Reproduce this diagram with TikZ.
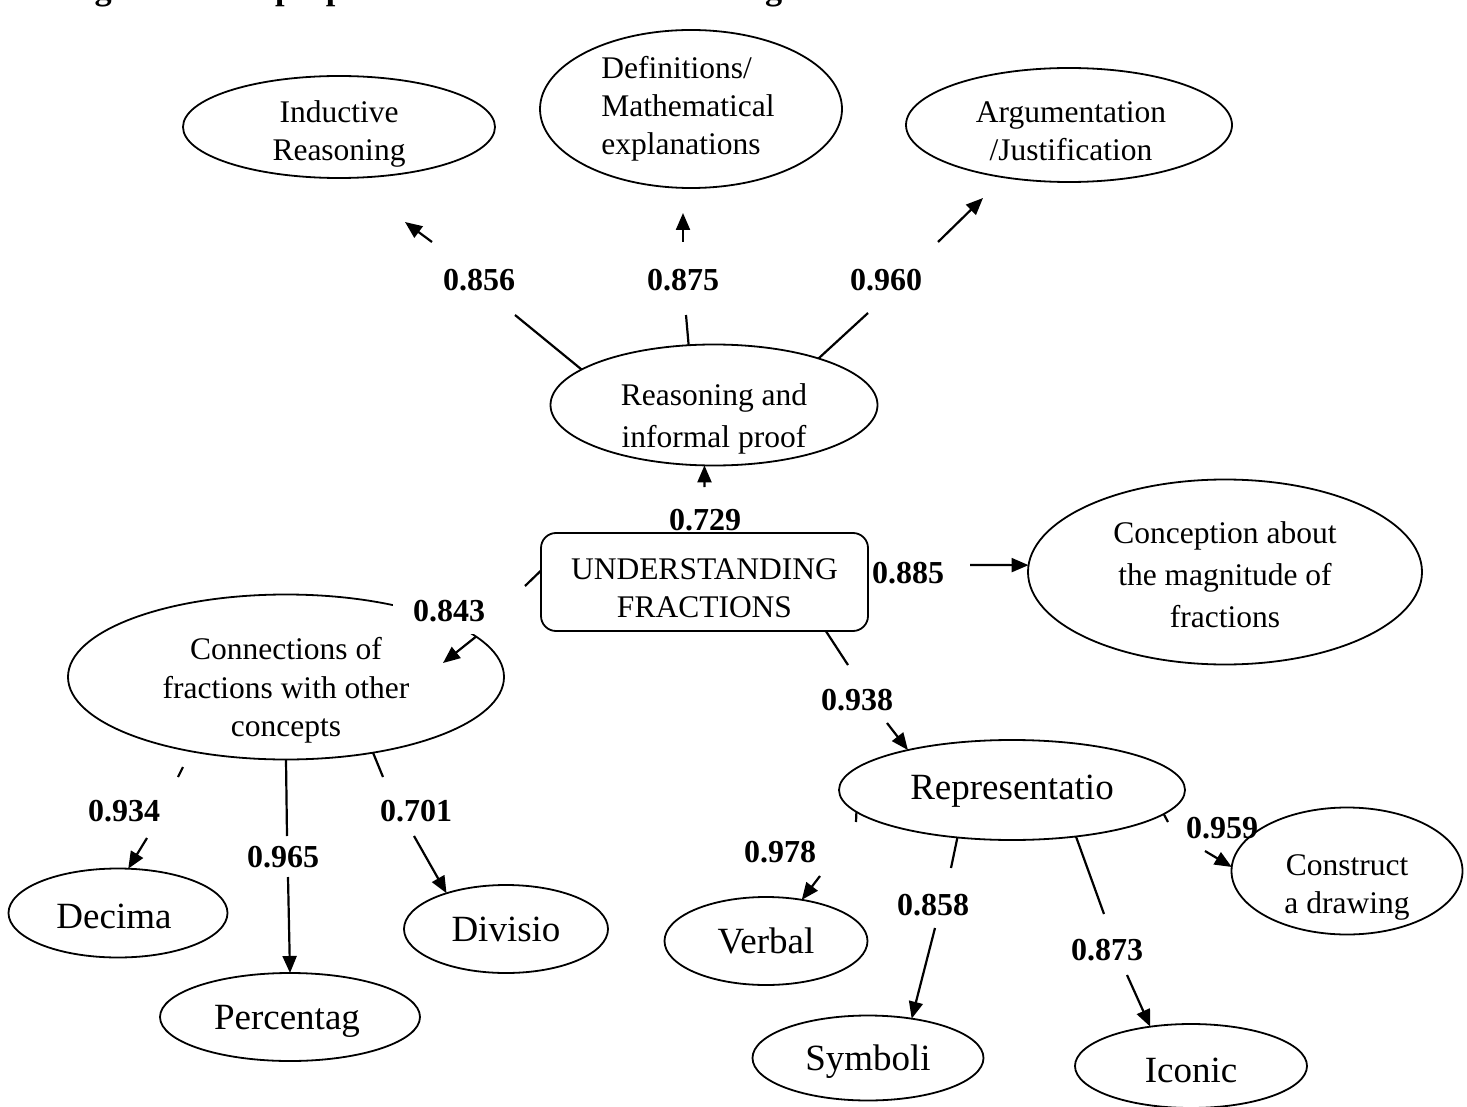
\documentclass[tikz,border=0pt]{standalone}
\usepackage{fontspec}
\setmainfont{Liberation Serif}
\usetikzlibrary{shapes.geometric,arrows.meta}
\begin{document}
\begin{tikzpicture}[x=1pt,y=-1pt,
  ell/.style={ellipse,draw,line width=1.8pt,fill=white,inner sep=0pt,outer sep=0pt},
  txt/.style={font=\fontsize{31.5}{38}\selectfont,align=center,inner sep=0pt},
  txtw/.style={font=\fontsize{31.5}{42}\selectfont,align=center,inner sep=0pt},
  big/.style={font=\fontsize{37}{44}\selectfont,inner sep=0pt},
  num/.style={font=\fontsize{32}{38}\selectfont\bfseries,inner sep=0pt},
  conn/.style={line width=2.2pt},
  arr/.style={line width=2.2pt,-{Triangle[length=17pt,width=14pt]}}]
\useasboundingbox (0,0) rectangle (1467,1107);
\clip (0,0) rectangle (1467,1107);
\fill[white] (0,0) rectangle (1467,1107);

% title (cut off at the top edge)
\node[anchor=base west,inner sep=0pt,font=\fontsize{34.3}{40}\selectfont\bfseries] (title) at (64,-0.5) {Figure 1: The proposed model for understanding fractions};

% label lying under the central box
\node[num] (l729) at (705,520) {0.729};

% nodes
\node[ell,minimum width=312pt,minimum height=102pt,label={[txt,yshift=-7pt]center:{Inductive\\Reasoning}}] (ind) at (339,127) {};
\node[ell,minimum width=302pt,minimum height=158pt,label={[txt,align=left,xshift=-3pt,yshift=0.5pt]center:{Definitions/\\Mathematical\\explanations}}] (def) at (691,109) {};
\node[ell,minimum width=326pt,minimum height=114pt,label={[txt,xshift=2pt,yshift=-6pt]center:{Argumentation\\/Justification}}] (arg) at (1069,125) {};
\node[ell,minimum width=327pt,minimum height=121pt,label={[txtw,yshift=-14pt]center:{Reasoning and\\informal proof}}] (rea) at (714,405) {};
\node[draw,rectangle,rounded corners=15pt,line width=1.8pt,fill=white,minimum width=327pt,minimum height=98pt,inner sep=0pt,outer sep=0pt,label={[txt,yshift=-6pt]center:{UNDERSTANDING\\FRACTIONS}}] (uf) at (704.5,582) {};
\node[ell,minimum width=394pt,minimum height=185pt,label={[txtw,yshift=-3pt]center:{Conception about\\the magnitude of\\fractions}}] (con) at (1225,572) {};
\node[ell,minimum width=436pt,minimum height=165pt,label={[font=\fontsize{31.5}{38.5}\selectfont,align=center,inner sep=0pt,yshift=-13.5pt]center:{Connections of\\fractions with other\\concepts}}] (cnx) at (286,677) {};
\node[ell,minimum width=346pt,minimum height=100pt,label={[big,yshift=-1pt]center:Representatio}] (rep) at (1012,790) {};
\node[ell,minimum width=219pt,minimum height=89pt,label={[big,xshift=-4pt,yshift=-3pt]center:Decima}] (dec) at (118,913) {};
\node[ell,minimum width=260pt,minimum height=88pt,label={[big,xshift=-3pt,yshift=-4pt]center:Percentag}] (perc) at (290,1017) {};
\node[ell,minimum width=204pt,minimum height=88pt,label={[big]center:Divisio}] (div) at (506,929) {};
\node[ell,minimum width=203pt,minimum height=88pt,label={[big]center:Verbal}] (verb) at (766,941) {};
\node[ell,minimum width=231pt,minimum height=85pt,label={[big,yshift=-4pt]center:Symboli}] (sym) at (868,1058) {};
\node[ell,minimum width=232pt,minimum height=84pt,label={[big,yshift=-4pt]center:Iconic}] (ico) at (1191,1066) {};
\node[ell,minimum width=231pt,minimum height=127pt,label={[txt,yshift=-16pt]center:{Construct\\a drawing}}] (cons) at (1347,871) {};

% gap ends and free tips
\coordinate (g1a) at (515,315);  \coordinate (g1b) at (432,242);  \coordinate (t1) at (405,222);
\coordinate (g2a) at (686,315);  \coordinate (g2b) at (683,242);  \coordinate (t2) at (683,213);
\coordinate (g3a) at (868,313);  \coordinate (g3b) at (938,242);  \coordinate (t3) at (983,198);
\coordinate (g4b) at (704.5,487);
\coordinate (g5b) at (970,565);
\coordinate (g6a) at (525,586);  \coordinate (t6) at (443,663);
\coordinate (g7a) at (848,665);  \coordinate (g7b) at (887,723);
\coordinate (g8s) at (183,767);  \coordinate (g8a) at (178,777);  \coordinate (g8b) at (147,838);
\coordinate (g9a) at (287,836);  \coordinate (g9b) at (288,877);
\coordinate (g10a) at (383,777); \coordinate (g10b) at (414,836);
\coordinate (g11a) at (856,822); \coordinate (g11b) at (820,876);
\coordinate (g12a) at (951,868); \coordinate (g12b) at (935,928);
\coordinate (g13a) at (1104,914);\coordinate (g13b) at (1127,975);
\coordinate (g14a) at (1168,822);\coordinate (g14b) at (1205,851);

% connectors
\draw[conn] (rea.165) -- (g1a);  \draw[arr] (g1b) -- (t1);
\draw[conn] (rea.113) -- (g2a);  \draw[arr] (g2b) -- (t2);
\draw[conn] (rea.24) -- (g3a);   \draw[arr] (g3b) -- (t3);
\draw[arr] (g4b) -- (rea.261);
\draw[arr] (g5b) -- (con.178);
\draw[conn] (uf.176) -- (g6a);   \draw[arr] (cnx.12) -- (t6);
\draw[conn] (uf.338) -- (g7a);   \draw[arr] (g7b) -- (rep.159);
\draw[conn] (g8s) -- (g8a);      \draw[arr] (g8b) -- (dec.77);
\draw[conn] (cnx.south) -- (g9a);\draw[arr] (g9b) -- (perc.north);
\draw[conn] (cnx.319) -- (g10a); \draw[arr] (g10b) -- (div.149);
\draw[conn] (rep.188) -- (g11a); \draw[arr] (g11b) -- (verb.49);
\draw[conn] (rep.221) -- (g12a); \draw[arr] (g12b) -- (sym.42);
\draw[conn] (rep.324) -- (g13a); \draw[arr] (g13b) -- (ico.136);
\draw[conn] (rep.351) -- (g14a); \draw[arr] (g14b) -- (cons.178);

% loadings
\node[num] (l856) at (479,280) {0.856};
\node[num] (l875) at (683,280) {0.875};
\node[num] (l960) at (886,280) {0.960};
\node[num] (l885) at (908,573) {0.885};
\node[num,fill=white,minimum width=112pt,minimum height=46pt] (l843) at (449,611) {0.843};
\node[num] (l938) at (857,700) {0.938};
\node[num] (l934) at (124,811) {0.934};
\node[num] (l965) at (283,857) {0.965};
\node[num] (l701) at (416,811) {0.701};
\node[num] (l978) at (780,852) {0.978};
\node[num] (l858) at (933,905) {0.858};
\node[num] (l873) at (1107,950) {0.873};
\node[num] (l959) at (1222,828) {0.959};
\end{tikzpicture}
\end{document}
